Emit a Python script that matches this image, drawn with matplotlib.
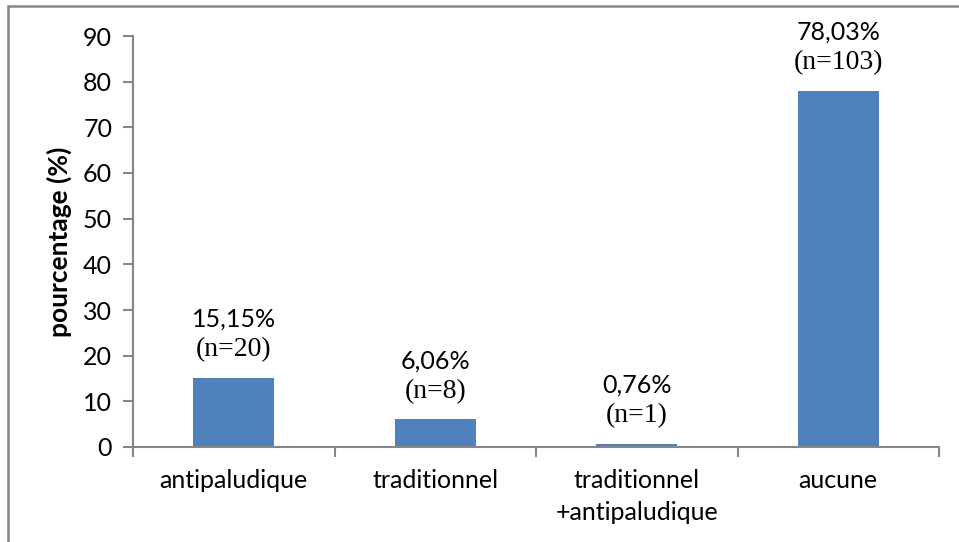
import matplotlib
matplotlib.use("Agg")
import matplotlib.pyplot as plt
from matplotlib.patches import Rectangle

categories = ["antipaludique", "traditionnel", "traditionnel\n+antipaludique", "aucune"]
values = [15.15, 6.06, 0.76, 78.03]
pct_labels = ["15,15%", "6,06%", "0,76%", "78,03%"]
n_labels = ["(n=20)", "(n=8)", "(n=1)", "(n=103)"]
yticks = [0, 10, 20, 30, 40, 50, 60, 70, 80, 90]

SANS = ["Lato", "DejaVu Sans"]
SERIF = ["Liberation Serif", "DejaVu Serif"]
GRAY = "#868686"
BLUE = "#4F81BD"
FS = 18

fig = plt.figure(figsize=(9.59, 5.42), dpi=100)
ax = fig.add_axes([133/959, 1-447/542, (939-133)/959, (447-36)/542])

x = list(range(len(categories)))
ax.bar(x, values, width=0.4, color=BLUE, zorder=2)

ax.set_xlim(-0.5, len(categories) - 0.5)
ax.set_ylim(0, 90)
ax.set_yticks(yticks)
ax.set_yticklabels([str(t) for t in yticks], fontfamily=SANS, fontsize=FS)

ax.set_xticks([i - 0.5 for i in range(len(categories) + 1)])
ax.set_xticklabels([])
ax.set_xticks(x, minor=True)
ax.set_xticklabels(categories, minor=True, fontfamily=SANS, fontsize=FS, linespacing=1.45)
ax.tick_params(axis="x", which="major", length=7, color=GRAY, width=1.5, direction="out")
ax.tick_params(axis="x", which="minor", length=0, pad=16)
ax.tick_params(axis="y", length=7, color=GRAY, width=1.5, direction="out", pad=8)

for s in ["top", "right"]:
    ax.spines[s].set_visible(False)
for s in ["left", "bottom"]:
    ax.spines[s].set_color(GRAY)
    ax.spines[s].set_linewidth(1.5)

ax.set_ylabel("pourcentage (%)", fontfamily=SANS, fontsize=19, fontweight="bold", labelpad=8)

for xi, v, p, n in zip(x, values, pct_labels, n_labels):
    ax.annotate(n, (xi, v), xytext=(0, 11), textcoords="offset points",
                ha="center", va="bottom", fontfamily=SERIF, fontsize=20)
    ax.annotate(p, (xi, v), xytext=(0, 34), textcoords="offset points",
                ha="center", va="bottom", fontfamily=SANS, fontsize=FS)

fig.patches.append(Rectangle((8/959, -0.1), 2, 1 - 6/542 + 0.1, transform=fig.transFigure,
                             fill=False, edgecolor=GRAY, linewidth=1.8))

fig.savefig("out.png", dpi=100)
